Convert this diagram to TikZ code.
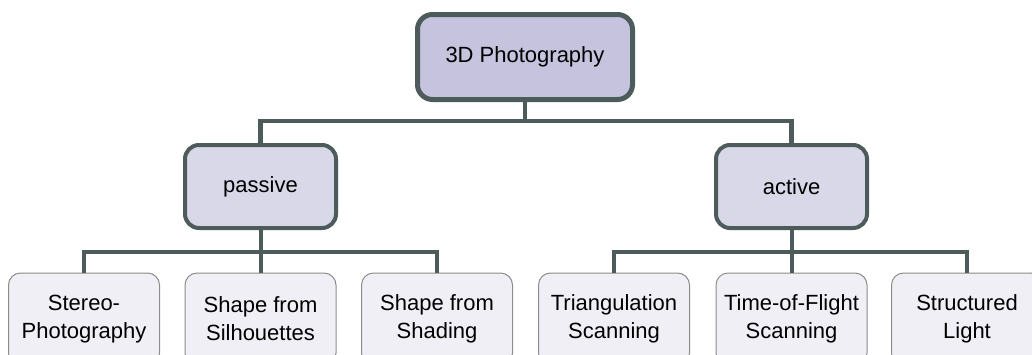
\documentclass[tikz,border=0pt]{standalone}
\usepackage{fontspec}
\setmainfont{Liberation Sans}
\definecolor{edgec}{HTML}{4E5B5B}
\definecolor{rootfill}{HTML}{C5C3DE}
\definecolor{midfill}{HTML}{D9D8E8}
\definecolor{leaffill}{HTML}{F0EFF5}
\definecolor{leafline}{HTML}{8C8C8C}
\begin{document}
\begin{tikzpicture}[x=1pt,y=-1pt,
  every node/.style={font=\fontsize{22}{28}\selectfont, align=center, inner sep=0pt, rectangle},
  rootbox/.style={draw=edgec, fill=rootfill, line width=5pt, rounded corners=15pt, minimum width=215pt, minimum height=85pt},
  midbox/.style={draw=edgec, fill=midfill, line width=4pt, rounded corners=14pt, minimum width=151pt, minimum height=83pt},
  leafbox/.style={draw=leafline, fill=leaffill, line width=1pt, rounded corners=12pt, minimum width=151pt, minimum height=92pt},
  link/.style={draw=edgec, line width=4.5pt},
  sublink/.style={draw=edgec, line width=4pt}]
\path[use as bounding box, clip] (0,0) rectangle (1032,354);
\fill[white] (0,0) rectangle (1032,354);
\node[rootbox] (root) at (525,57) {3D Photography};
\node[midbox] (passive) at (260.5,186.5) {passive};
\node[midbox] (active) at (791.5,186.5) {active};
\node[leafbox] (l1) at (84,319) {Stereo-\\Photography};
\node[leafbox] (l2) at (260.5,319) {Shape from\\Silhouettes};
\node[leafbox] (l3) at (437,319) {Shape from\\Shading};
\node[leafbox] (l4) at (614,319) {Triangulation\\Scanning};
\node[leafbox] (l5) at (791.5,319) {Time-of-Flight\\Scanning};
\node[leafbox] (l6) at (967,319) {Structured\\Light};
\coordinate (top) at (525,121);
\coordinate (pj) at (260.5,252);
\coordinate (aj) at (791.5,252);
\draw[link] (root.south) -- (top);
\draw[link] (top) -| (passive.north);
\draw[link] (top) -| (active.north);
\draw[sublink] (passive.south) -- (pj);
\draw[sublink] (pj) -| (l1.north);
\draw[sublink] (pj) -- (l2.north);
\draw[sublink] (pj) -| (l3.north);
\draw[sublink] (active.south) -- (aj);
\draw[sublink] (aj) -| (l4.north);
\draw[sublink] (aj) -- (l5.north);
\draw[sublink] (aj) -| (l6.north);
\end{tikzpicture}
\end{document}
